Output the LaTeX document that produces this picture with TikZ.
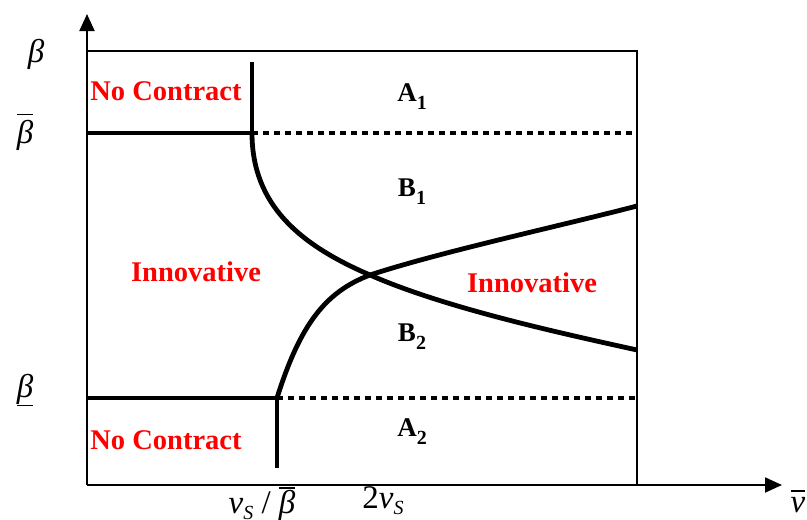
\documentclass[tikz,border=0pt]{standalone}
\usepackage{fontspec}
\setmainfont{Liberation Serif}
\usetikzlibrary{arrows.meta}
\newcommand{\ib}{\hbox{\itshape β}}
\newcommand{\iv}{\hbox{\itshape v}}
\newcommand{\iS}{\hbox{\fontsize{20}{22}\selectfont\itshape S}}
\newcommand{\ovl}[2][5pt]{\vbox{\hrule height 1.6pt\kern #1\hbox{#2}}}
\begin{document}
\begin{tikzpicture}[x=1pt,y=-1pt,
  thickline/.style={line width=4.8pt},
  boxline/.style={line width=2pt},
  axisline/.style={line width=2pt,-{Triangle[length=17pt,width=15pt]}},
  dotline/.style={line width=4.8pt, dash pattern=on 6pt off 5pt},
  redlab/.style={text=red, font=\fontsize{28.5}{30}\selectfont\bfseries, inner sep=0pt},
  blklab/.style={font=\fontsize{27}{28}\selectfont\bfseries, inner sep=0pt},
  mathlab/.style={font=\fontsize{33}{35}\selectfont, inner sep=0pt}]
\useasboundingbox (0,0) rectangle (807,520);
% axes
\coordinate (O) at (87,485);
\coordinate (Ytip) at (87,14);
\coordinate (Xtip) at (782,485);
\draw[axisline] (O) -- (Ytip);
\draw[axisline] (O) -- (Xtip);
% box
\coordinate (TL) at (87,51);
\coordinate (TR) at (637,51);
\coordinate (BR) at (637,485);
\draw[boxline] (TL) -- (TR) -- (BR);
% upper structure
\coordinate (UL) at (87,133);
\coordinate (UK) at (252,133);
\coordinate (UT) at (252,62);
\coordinate (UR) at (637,133);
\coordinate (X) at (370,275);
\coordinate (CE1) at (637,350);
\draw[thickline] (UL) -- (UK);
\draw[thickline] (UT) -- (UK);
\draw[dotline] (UK) -- (UR);
\draw[thickline] (UK) .. controls (252,205) and (300,245) .. (X)
  .. controls (445,308) and (560,333) .. (CE1);
% lower structure
\coordinate (LL) at (87,398);
\coordinate (LK) at (277,398);
\coordinate (LB) at (277,468);
\coordinate (LR) at (637,398);
\coordinate (CE2) at (637,206);
\draw[thickline] (LL) -- (LK);
\draw[thickline] (LK) -- (LB);
\draw[dotline] (LK) -- (LR);
\draw[thickline] (LK) .. controls (300,325) and (325,292) .. (X)
  .. controls (440,252) and (560,226) .. (CE2);
% region labels
\node[redlab] (nc1) at (166,91) {No Contract};
\node[redlab] (nc2) at (166,440) {No Contract};
\node[redlab] (in1) at (196,272) {Innovative};
\node[redlab] (in2) at (532,283) {Innovative};
\node[blklab] (a1) at (412,97) {A\raisebox{-0.3em}{\fontsize{20}{22}\selectfont 1}};
\node[blklab] (b1) at (412,192) {B\raisebox{-0.3em}{\fontsize{20}{22}\selectfont 1}};
\node[blklab] (b2) at (412,337) {B\raisebox{-0.3em}{\fontsize{20}{22}\selectfont 2}};
\node[blklab] (a2) at (412,432) {A\raisebox{-0.3em}{\fontsize{20}{22}\selectfont 2}};
% axis labels
\node[mathlab] (lb) at (36,54) {\ib};
\node[mathlab] (lbbar) at (25,132) {\ovl{\ib}};
\node[mathlab] (lbund) at (25,390) {$\underline{\ib}$};
\node[mathlab,anchor=base] (lvs) at (262,513) {\iv\raisebox{-0.2em}{\iS}\ /\ \ovl[1pt]{\ib}};
\node[mathlab,anchor=base] (l2v) at (383,508) {2\iv\raisebox{-0.2em}{\iS}};
\node[mathlab,anchor=base] (lv) at (798,512) {\ovl{\iv}};
\end{tikzpicture}
\end{document}
